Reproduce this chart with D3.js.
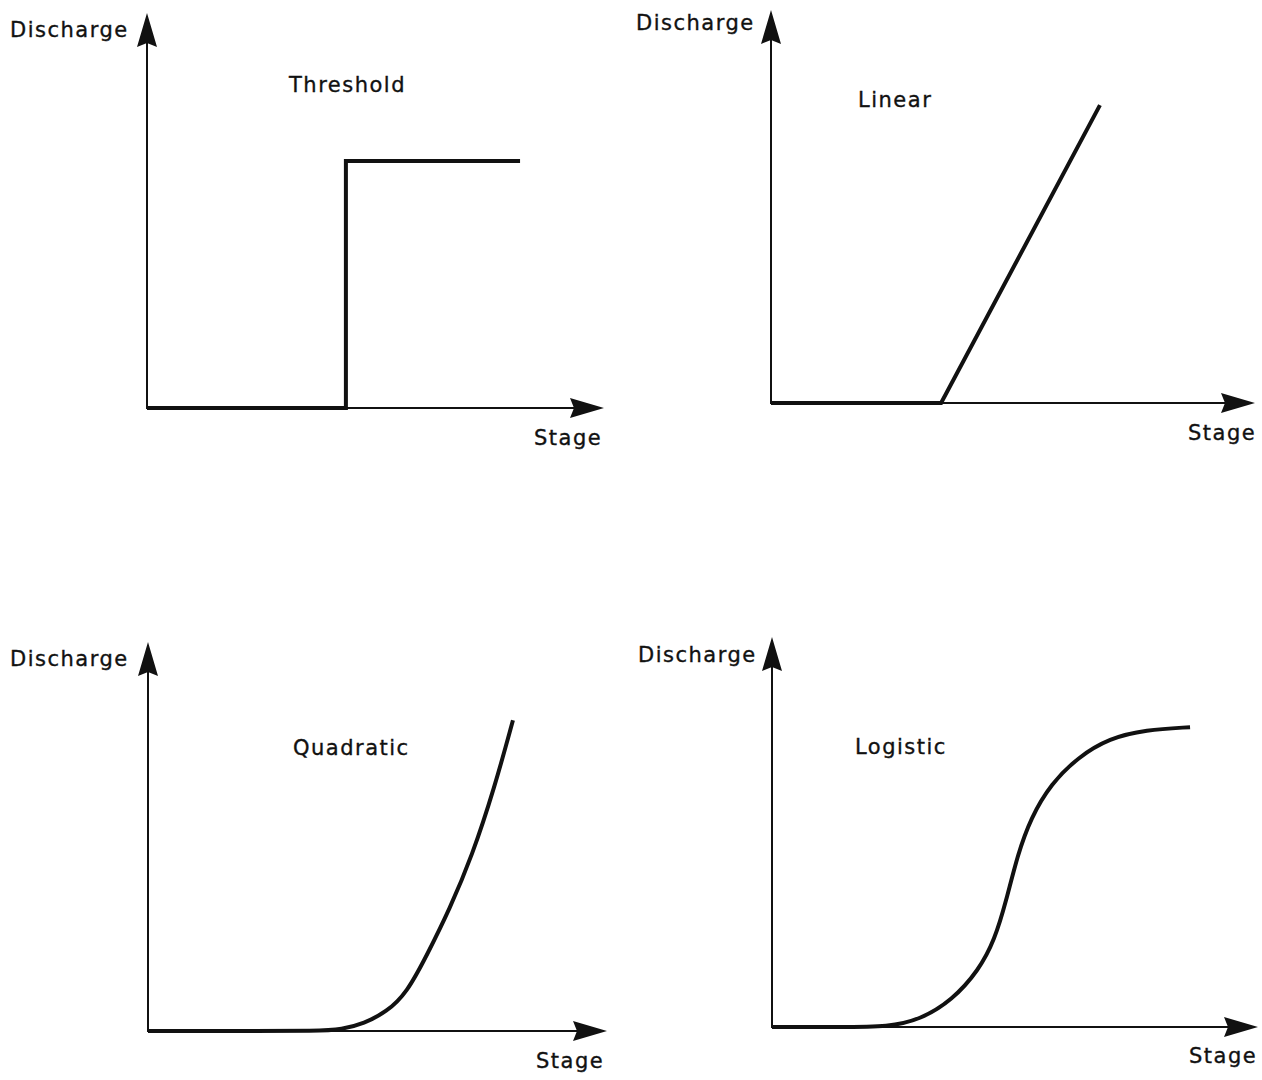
<!DOCTYPE html>
<html lang="en">
<head>
  <meta charset="UTF-8">
  <title>Stage - Discharge relationships</title>
  <script src="https://d3js.org/d3.v7.min.js"></script>
  <style>
    body { margin: 0; background: #fff; }
    text { font-family: "DejaVu Sans", sans-serif; font-size: 21px; letter-spacing: 1.5px; fill: #111; stroke: #111; stroke-width: 0.35px; }
  </style>
</head>
<body>
  <svg id="chart" width="1262" height="1080"></svg>

  <script>
    // panel titles
    const titles = ["Threshold", "Linear", "Quadratic", "Logistic"];
    const xLabel = "Stage";
    const yLabel = "Discharge";

    // curves, in stage / discharge units (0 - 10)
    const thresholdStage     = [0, 4.42, 4.42, 8.29];
    const thresholdDischarge = [0, 0, 6.5, 6.5];

    const linearStage     = [0, 3.78, 7.31];
    const linearDischarge = [0, 0, 7.84];

    const quadraticStage     = [0, 2, 3.8, 4.3, 4.8, 5.3, 5.75, 6.2, 6.7, 7.2, 7.7, 8.11];
    const quadraticDischarge = [0, 0, 0, 0.04, 0.2, 0.5, 1.0, 2.0, 3.2, 4.6, 6.4, 8.18];

    const logisticStage     = [0, 1.5, 2.6, 3.3, 4.0, 4.6, 4.95, 5.2, 5.45, 5.75, 6.2, 6.8, 7.5, 8.3, 9.29];
    const logisticDischarge = [0, 0, 0, 0.2, 0.7, 1.5, 2.3, 3.3, 4.5, 5.5, 6.4, 7.1, 7.6, 7.82, 7.89];

    const svg = d3.select("#chart");

    // layout of the four panels (origin, axis lengths, label spots)
    const panels = [
      { ox: 147, oy: 408, xLen: 457, yLen: 395, stage: thresholdStage, q: thresholdDischarge, curve: d3.curveLinear,
        yl: [10, 37], tl: [289, 92], sl: [534, 445] },
      { ox: 771, oy: 403, xLen: 484, yLen: 393, stage: linearStage, q: linearDischarge, curve: d3.curveLinear,
        yl: [636, 30], tl: [858, 107], sl: [1188, 440] },
      { ox: 148, oy: 1031, xLen: 459, yLen: 389, stage: quadraticStage, q: quadraticDischarge, curve: d3.curveBasis,
        yl: [10, 666], tl: [293, 755], sl: [536, 1068] },
      { ox: 772, oy: 1027, xLen: 486, yLen: 390, stage: logisticStage, q: logisticDischarge, curve: d3.curveBasis,
        yl: [638, 662], tl: [855, 754], sl: [1189, 1063] }
    ];

    panels.forEach((p, i) => {
      const x = d3.scaleLinear().domain([0, 10]).range([p.ox, p.ox + 450]);
      const y = d3.scaleLinear().domain([0, 10]).range([p.oy, p.oy - 380]);
      const g = svg.append("g");

      const xTip = p.ox + p.xLen;
      const yTip = p.oy - p.yLen;

      // axes
      g.append("line")
        .attr("x1", x(0)).attr("y1", y(0))
        .attr("x2", xTip - 20).attr("y2", y(0))
        .attr("stroke", "#111").attr("stroke-width", 2);
      g.append("line")
        .attr("x1", x(0)).attr("y1", y(0) + 1)
        .attr("x2", x(0)).attr("y2", yTip + 20)
        .attr("stroke", "#111").attr("stroke-width", 2);

      // arrow heads
      g.append("path")
        .attr("d", `M${xTip},${y(0)} L${xTip - 34},${y(0) - 10} L${xTip - 30},${y(0)} L${xTip - 34},${y(0) + 10} Z`)
        .attr("fill", "#111");
      g.append("path")
        .attr("d", `M${x(0)},${yTip} L${x(0) - 10},${yTip + 34} L${x(0)},${yTip + 30} L${x(0) + 10},${yTip + 34} Z`)
        .attr("fill", "#111");

      // curve
      const pts = p.stage.map((s, k) => [s, p.q[k]]);
      const line = d3.line()
        .x(d => x(d[0]))
        .y(d => y(d[1]))
        .curve(p.curve);
      g.append("path")
        .attr("d", line(pts))
        .attr("fill", "none")
        .attr("stroke", "#111")
        .attr("stroke-width", 4)
        .attr("stroke-linejoin", "miter");

      // labels
      g.append("text").attr("x", p.yl[0]).attr("y", p.yl[1]).text(yLabel);
      g.append("text").attr("x", p.tl[0]).attr("y", p.tl[1]).text(titles[i]);
      g.append("text").attr("x", p.sl[0]).attr("y", p.sl[1]).text(xLabel);
    });
  </script>
</body>
</html>
